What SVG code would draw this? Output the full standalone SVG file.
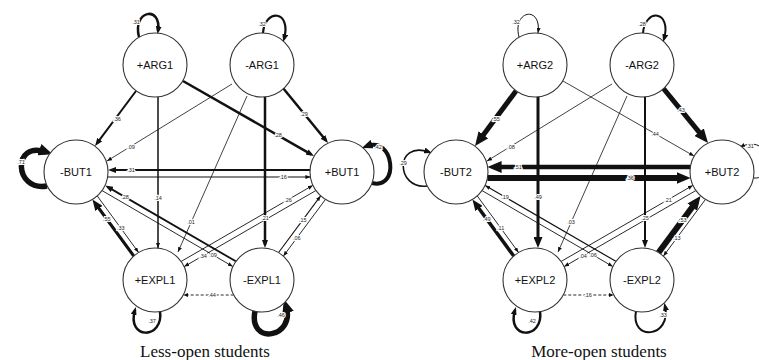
<svg xmlns="http://www.w3.org/2000/svg" width="759" height="360" viewBox="0 0 759 360">
  <defs>
    <style>
      .n circle { fill: #fff; stroke: #333; stroke-width: 1.1; }
      .n text { font-family: "Liberation Sans", Arial, sans-serif; font-size: 11px; text-anchor: middle; fill: #111; }
      .e line, .e path { fill: none; stroke: #111; stroke-linecap: butt; }
      .lb { font-family: "Liberation Sans", Arial, sans-serif; font-size: 5.5px; text-anchor: middle; dominant-baseline: central; fill: #222; stroke: #fff; stroke-width: 2.2; paint-order: stroke; }
      .cap { font-family: "Liberation Serif", "Times New Roman", serif; font-size: 17px; text-anchor: middle; fill: #111; }
    </style>
    <marker id="aS" viewBox="0 0 10 10" refX="10" refY="5" markerWidth="5" markerHeight="4" markerUnits="userSpaceOnUse" orient="auto" preserveAspectRatio="none"><path d="M0,0L10,5L0,10z" fill="#111"/></marker>
    <marker id="aM" viewBox="0 0 10 10" refX="6" refY="5" markerWidth="8" markerHeight="6" markerUnits="userSpaceOnUse" orient="auto" preserveAspectRatio="none"><path d="M0,0L10,5L0,10z" fill="#111"/></marker>
    <marker id="aL" viewBox="0 0 10 10" refX="5" refY="5" markerWidth="11" markerHeight="9" markerUnits="userSpaceOnUse" orient="auto" preserveAspectRatio="none"><path d="M0,0L10,5L0,10z" fill="#111"/></marker>
    <marker id="aXL" viewBox="0 0 10 10" refX="5" refY="5" markerWidth="14" markerHeight="12" markerUnits="userSpaceOnUse" orient="auto" preserveAspectRatio="none"><path d="M0,0L10,5L0,10z" fill="#111"/></marker>
  </defs>
  <rect width="759" height="360" fill="#fff"/>

  <!-- Less-open students network -->
  <g id="less-open">
    <g id="connectors-1" class="e">
      <!-- self loops -->
      <path d="M139,37 C132,10 162,5 158,31" stroke-width="2.5" marker-end="url(#aM)"/>
      <path d="M263,33 C265,8 292,10 284,39" stroke-width="2.2" marker-end="url(#aM)"/>
      <path d="M47,186 C14,192 12,140 46,152" stroke-width="5.5" marker-end="url(#aXL)"/>
      <path d="M372,183 C400,190 394,136 367,146" stroke-width="4" marker-end="url(#aL)"/>
      <path d="M160,311 C164,340 126,340 135,310" stroke-width="2.5" marker-end="url(#aM)"/>
      <path d="M255,311 C248,346 296,338 286,306" stroke-width="5.5" marker-end="url(#aXL)"/>
      <!-- transitions -->
      <line x1="136" y1="91" x2="96.9" y2="143.4" stroke-width="2" marker-end="url(#aM)"/>
      <line x1="183" y1="81" x2="311.2" y2="154.4" stroke-width="2.5" marker-end="url(#aM)"/>
      <line x1="283" y1="88" x2="326" y2="140.5" stroke-width="2.5" marker-end="url(#aM)"/>
      <line x1="158" y1="97" x2="158" y2="248" stroke-width="1.5" marker-end="url(#aS)"/>
      <line x1="265" y1="97" x2="265" y2="244.8" stroke-width="2.5" marker-end="url(#aM)"/>
      <line x1="232" y1="84" x2="107" y2="161" stroke-width="0.8" marker-end="url(#aS)"/>
      <line x1="247" y1="96" x2="178" y2="252" stroke-width="0.8" marker-end="url(#aS)"/>
      <line x1="310" y1="170" x2="111.2" y2="170" stroke-width="2" marker-end="url(#aM)"/>
      <line x1="108" y1="177" x2="310.4" y2="177" stroke-width="1.1" marker-end="url(#aS)"/>
      <line x1="235.8" y1="261.3" x2="108" y2="187.1" stroke-width="1.8" marker-end="url(#aM)"/>
      <line x1="102.2" y1="190.7" x2="232.8" y2="266.5" stroke-width="0.9" marker-end="url(#aS)"/>
      <line x1="181.2" y1="261.4" x2="312.8" y2="185.4" stroke-width="0.9" marker-end="url(#aS)"/>
      <line x1="315.8" y1="190.6" x2="184.2" y2="266.6" stroke-width="0.9" marker-end="url(#aS)"/>
      <line x1="133.7" y1="256" x2="95.7" y2="204" stroke-width="3" marker-end="url(#aL)"/>
      <line x1="97.3" y1="196" x2="138.5" y2="252.4" stroke-width="0.9" marker-end="url(#aS)"/>
      <line x1="278.6" y1="252.5" x2="320.6" y2="195.9" stroke-width="1.1" marker-end="url(#aS)"/>
      <line x1="325.4" y1="199.5" x2="283.4" y2="256.1" stroke-width="0.9" marker-end="url(#aS)"/>
      <line x1="233.7" y1="295" x2="183.3" y2="295" stroke-width="0.9" stroke-dasharray="3 2" marker-end="url(#aS)"/>
      <!-- transition probabilities -->
      <text class="lb" x="136" y="22">.31</text>
      <text class="lb" x="262" y="24">.32</text>
      <text class="lb" x="21" y="162">.71</text>
      <text class="lb" x="378" y="147">.42</text>
      <text class="lb" x="152" y="321">.37</text>
      <text class="lb" x="281" y="315">.46</text>
      <text class="lb" x="117" y="119">.36</text>
      <text class="lb" x="278" y="135">.28</text>
      <text class="lb" x="304" y="114">.29</text>
      <text class="lb" x="158" y="198">.14</text>
      <text class="lb" x="265" y="218">.21</text>
      <text class="lb" x="131" y="147">.09</text>
      <text class="lb" x="191" y="222">.01</text>
      <text class="lb" x="131" y="170">.31</text>
      <text class="lb" x="283" y="177">.16</text>
      <text class="lb" x="125" y="197">.28</text>
      <text class="lb" x="213" y="255">.09</text>
      <text class="lb" x="288" y="199.7">.26</text>
      <text class="lb" x="203" y="255.7">.34</text>
      <text class="lb" x="106.7" y="219">.55</text>
      <text class="lb" x="120.7" y="228">.33</text>
      <text class="lb" x="302.7" y="220">.15</text>
      <text class="lb" x="296.8" y="238">.06</text>
      <text class="lb" x="212" y="295">.44</text>
    </g>
    <g id="arg1-pos" class="n"><circle cx="155" cy="65" r="32"/><text x="155" y="69">+ARG1</text></g>
    <g id="arg1-neg" class="n"><circle cx="262" cy="65" r="32"/><text x="262" y="69">-ARG1</text></g>
    <g id="but1-neg" class="n"><circle cx="76" cy="172" r="32"/><text x="76" y="176">-BUT1</text></g>
    <g id="but1-pos" class="n"><circle cx="342" cy="172" r="32"/><text x="342" y="176">+BUT1</text></g>
    <g id="expl1-pos" class="n"><circle cx="155" cy="280" r="32"/><text x="155" y="284">+EXPL1</text></g>
    <g id="expl1-neg" class="n"><circle cx="262" cy="280" r="32"/><text x="262" y="284">-EXPL1</text></g>
  </g>

  <!-- More-open students network -->
  <g id="more-open" transform="translate(380,0)">
    <g id="connectors-2" class="e">
      <!-- self loops -->
      <path d="M139,37 C132,10 162,5 158,33" stroke-width="1" marker-end="url(#aS)"/>
      <path d="M263,33 C265,8 292,10 284,39" stroke-width="2" marker-end="url(#aM)"/>
      <path d="M47,186 C16,190 14,140 49,152" stroke-width="1.6" marker-end="url(#aM)"/>
      <path d="M374,178 C396,180 392,132 360,147" stroke-width="1" marker-end="url(#aS)"/>
      <path d="M160,311 C164,340 126,340 135,310" stroke-width="2.5" marker-end="url(#aM)"/>
      <path d="M256,311 C250,342 292,338 285,306" stroke-width="2" marker-end="url(#aM)"/>
      <!-- transitions -->
      <line x1="136" y1="91" x2="99.2" y2="140.4" stroke-width="5" marker-end="url(#aXL)"/>
      <line x1="183" y1="81" x2="314" y2="156" stroke-width="0.8" marker-end="url(#aS)"/>
      <line x1="283" y1="88" x2="323.6" y2="137.6" stroke-width="5" marker-end="url(#aXL)"/>
      <line x1="158" y1="97" x2="158" y2="242.5" stroke-width="3" marker-end="url(#aL)"/>
      <line x1="265" y1="97" x2="265" y2="244.8" stroke-width="2" marker-end="url(#aM)"/>
      <line x1="232" y1="84" x2="107" y2="161" stroke-width="0.8" marker-end="url(#aS)"/>
      <line x1="247" y1="96" x2="178" y2="252" stroke-width="0.8" marker-end="url(#aS)"/>
      <line x1="310.4" y1="167" x2="114.6" y2="167" stroke-width="4.5" marker-end="url(#aXL)"/>
      <line x1="107.4" y1="178" x2="303.6" y2="178" stroke-width="6" marker-end="url(#aXL)"/>
      <line x1="235.8" y1="261.3" x2="105.2" y2="185.5" stroke-width="1.2" marker-end="url(#aS)"/>
      <line x1="102.2" y1="190.7" x2="232.8" y2="266.5" stroke-width="0.9" marker-end="url(#aS)"/>
      <line x1="181.2" y1="261.4" x2="312.8" y2="185.4" stroke-width="0.9" marker-end="url(#aS)"/>
      <line x1="315.8" y1="190.6" x2="184.2" y2="266.6" stroke-width="0.9" marker-end="url(#aS)"/>
      <line x1="133.7" y1="256" x2="95.7" y2="204" stroke-width="3.5" marker-end="url(#aL)"/>
      <line x1="97.3" y1="196" x2="138.5" y2="252.4" stroke-width="0.9" marker-end="url(#aS)"/>
      <line x1="278.6" y1="252.5" x2="316.4" y2="201.5" stroke-width="6" marker-end="url(#aXL)"/>
      <line x1="325.4" y1="199.5" x2="283.4" y2="256.1" stroke-width="0.9" marker-end="url(#aS)"/>
      <line x1="183.3" y1="295" x2="233.7" y2="295" stroke-width="0.9" stroke-dasharray="3 2" marker-end="url(#aS)"/>
      <!-- transition probabilities -->
      <text class="lb" x="136" y="22">.32</text>
      <text class="lb" x="262" y="24">.28</text>
      <text class="lb" x="23" y="163">.29</text>
      <text class="lb" x="370" y="146">.31</text>
      <text class="lb" x="152" y="321">.42</text>
      <text class="lb" x="283" y="315">.33</text>
      <text class="lb" x="116" y="119">.55</text>
      <text class="lb" x="275" y="134">.44</text>
      <text class="lb" x="301" y="110">.43</text>
      <text class="lb" x="158" y="197">.49</text>
      <text class="lb" x="265" y="218">.25</text>
      <text class="lb" x="131" y="147">.08</text>
      <text class="lb" x="191" y="222">.03</text>
      <text class="lb" x="138" y="167">.51</text>
      <text class="lb" x="250" y="178">.36</text>
      <text class="lb" x="125" y="197">.19</text>
      <text class="lb" x="213" y="255">.06</text>
      <text class="lb" x="288" y="199.7">.21</text>
      <text class="lb" x="203" y="255.7">.04</text>
      <text class="lb" x="106.7" y="219">.49</text>
      <text class="lb" x="120.7" y="228">.11</text>
      <text class="lb" x="302.7" y="220">.53</text>
      <text class="lb" x="296.8" y="238">.13</text>
      <text class="lb" x="208" y="295">.16</text>
    </g>
    <g id="arg2-pos" class="n"><circle cx="155" cy="65" r="32"/><text x="155" y="69">+ARG2</text></g>
    <g id="arg2-neg" class="n"><circle cx="262" cy="65" r="32"/><text x="262" y="69">-ARG2</text></g>
    <g id="but2-neg" class="n"><circle cx="76" cy="172" r="32"/><text x="76" y="176">-BUT2</text></g>
    <g id="but2-pos" class="n"><circle cx="342" cy="172" r="32"/><text x="342" y="176">+BUT2</text></g>
    <g id="expl2-pos" class="n"><circle cx="155" cy="280" r="32"/><text x="155" y="284">+EXPL2</text></g>
    <g id="expl2-neg" class="n"><circle cx="262" cy="280" r="32"/><text x="262" y="284">-EXPL2</text></g>
  </g>

  <text class="cap" x="205" y="357">Less-open students</text>
  <text class="cap" x="599" y="357">More-open students</text>
</svg>
